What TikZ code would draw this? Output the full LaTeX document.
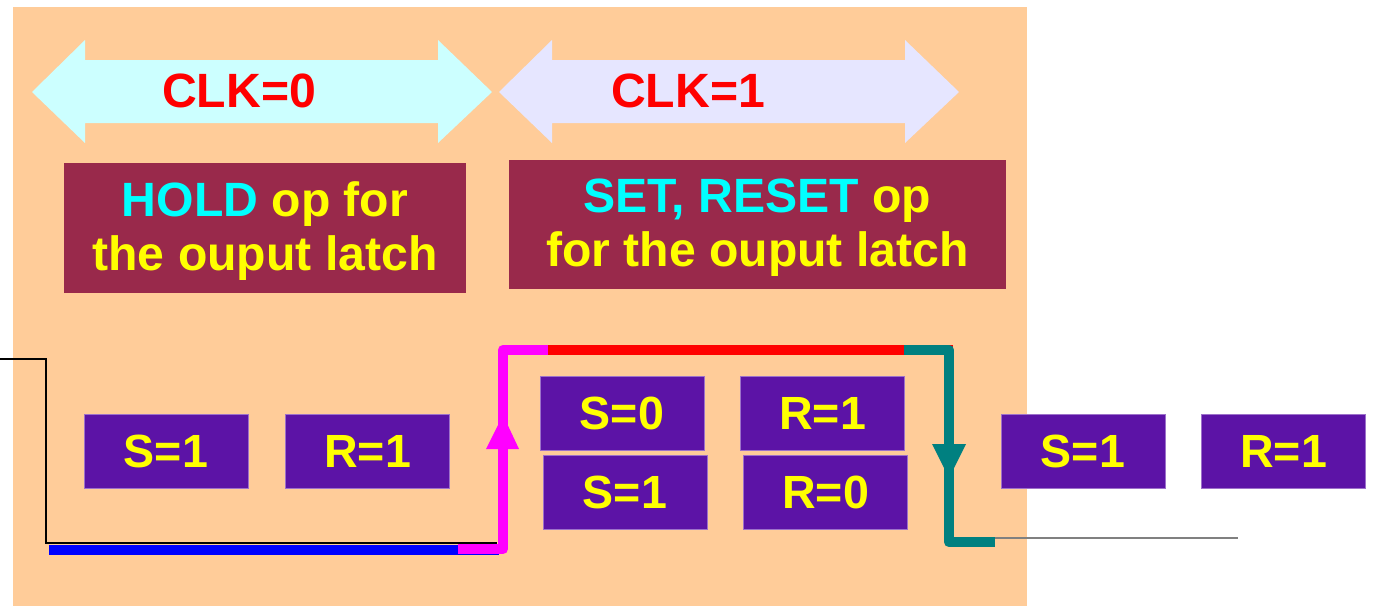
\documentclass[tikz,border=0pt]{standalone}
\usepackage{fontspec}
\setmainfont{Liberation Sans}
\usetikzlibrary{positioning}
\definecolor{peach}{RGB}{255,204,153}
\definecolor{paleCyan}{RGB}{204,255,255}
\definecolor{paleLav}{RGB}{230,230,255}
\definecolor{opMaroon}{RGB}{153,41,75}
\definecolor{srPurple}{RGB}{92,19,166}
\definecolor{clkTeal}{RGB}{0,128,128}
\definecolor{opCyan}{RGB}{0,255,255}
\definecolor{opYellow}{RGB}{255,255,0}
\definecolor{clkRed}{RGB}{255,0,0}
\definecolor{clkBlue}{RGB}{0,0,255}
\definecolor{clkMagenta}{RGB}{255,0,255}
\newcommand{\srfont}{\fontsize{26.5}{30.7}\selectfont\bfseries}
\newcommand{\opfont}{\fontsize{27.4}{30.7}\selectfont\bfseries}

\begin{document}
\begin{tikzpicture}[x=0.02cm,y=-0.02cm,
    srbox/.style={fill=srPurple,draw=srPurple!60!white,minimum width=3.28cm,minimum height=1.48cm,inner sep=0pt,text=opYellow,font=\srfont},
    opbox/.style={fill=opMaroon,inner sep=0pt,text=opYellow,align=center,font=\opfont},
    wave/.style={line width=0.21cm,line join=round}]
    \useasboundingbox (0,0) rectangle (1374,606);
    \fill[peach] (13,7) rectangle (1027,606);
    \fill[paleCyan] (32,92)--(85,40)--(85,60)--(438,60)--(438,40)--(492,92)--(438,143)--(438,123)--(85,123)--(85,143)--cycle;
    \fill[paleLav] (499,92)--(552,40)--(552,60)--(905,60)--(905,40)--(959,92)--(905,143)--(905,123)--(552,123)--(552,143)--cycle;
    \node[clkRed,font=\opfont,inner sep=0pt] (clk0) at (239,91) {CLK=0};
    \node[clkRed,font=\opfont,inner sep=0pt] (clk1) at (688,91) {CLK=1};
    \node[opbox,minimum width=8.06cm,minimum height=2.6cm] (hold) at (265,228) {};
    \node[opbox] (holdtxt) at ([yshift=-0.07cm]hold.center) {{\color{opCyan}HOLD} op for\\the ouput latch};
    \node[opbox,minimum width=9.94cm,minimum height=2.58cm] (setreset) at (757.5,224.5) {};
    \node[opbox] (setresettxt) at ([yshift=-0.07cm]setreset.center) {{\color{opCyan}SET, RESET} op\\for the ouput latch};
    \node[srbox] (s1a) at (166,451) {S=1};
    \node[srbox,right=0.74cm of s1a] (r1a) {R=1};
    \node[srbox] (s0) at (622,413) {S=0};
    \node[srbox,right=0.72cm of s0] (r1b) {R=1};
    \node[srbox] (s1b) at (625,492.5) {S=1};
    \node[srbox,right=0.72cm of s1b] (r0) {R=0};
    \node[srbox] (s1c) at (1083,451) {S=1};
    \node[srbox,right=0.72cm of s1c] (r1c) {R=1};
    \draw[black,line width=0.6pt] (0,359) -| (46,543) -- (497,543);
    \draw[wave,clkBlue] (49,550) -- (499,550);
    \draw[wave,clkMagenta] (458,549) -- (503,549) -- (503,350) -- (548,350);
    \draw[wave,clkRed] (548,350) -- (953,350);
    \draw[wave,clkTeal] (904,350) -- (949,350) -- (949,542) -- (995,542);
    \draw[gray,line width=0.8pt] (995,538) -- (1238,538);
    \fill[clkMagenta] (503,415) -- (519,449) -- (486,449) -- cycle;
    \fill[clkTeal] (949,478) -- (966,444) -- (932,444) -- cycle;
\end{tikzpicture}
\end{document}
